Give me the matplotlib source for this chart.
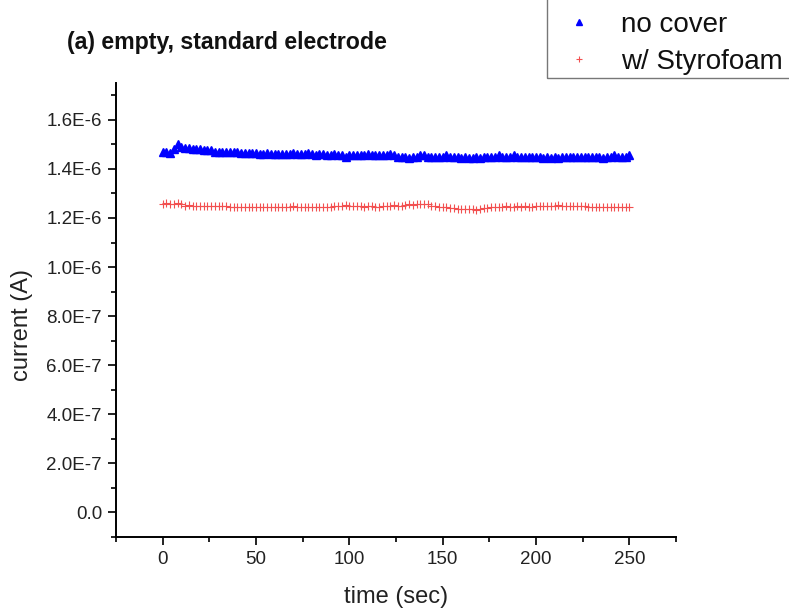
import numpy as np
import matplotlib
matplotlib.use("Agg")
import matplotlib.pyplot as plt
from matplotlib.patches import Rectangle
from matplotlib.ticker import MultipleLocator, FuncFormatter

plt.rcParams['font.family'] = ['Liberation Sans', 'DejaVu Sans']

# sample times (sec), one reading every 2 s
time_s = np.arange(0, 251, 2)

# current, units of 1e-6 A
no_cover = [
    1.470, 1.470, 1.465, 1.480, 1.500, 1.490, 1.485, 1.485, 1.480, 1.480,
    1.480, 1.475, 1.475, 1.475, 1.470, 1.470, 1.470, 1.470, 1.470, 1.470,
    1.470, 1.465, 1.465, 1.465, 1.465, 1.465, 1.460, 1.460, 1.465, 1.460,
    1.460, 1.460, 1.460, 1.460, 1.460, 1.465, 1.460, 1.460, 1.460, 1.465,
    1.460, 1.455, 1.460, 1.460, 1.455, 1.455, 1.460, 1.455, 1.455, 1.450,
    1.455, 1.455, 1.455, 1.455, 1.455, 1.460, 1.455, 1.455, 1.455, 1.455,
    1.455, 1.460, 1.455, 1.450, 1.450, 1.450, 1.445, 1.450, 1.450, 1.455,
    1.455, 1.450, 1.450, 1.450, 1.450, 1.450, 1.455, 1.450, 1.450, 1.450,
    1.445, 1.450, 1.445, 1.445, 1.450, 1.445, 1.450, 1.450, 1.450, 1.450,
    1.455, 1.450, 1.450, 1.450, 1.455, 1.450, 1.450, 1.450, 1.450, 1.450,
    1.450, 1.450, 1.445, 1.450, 1.445, 1.450, 1.445, 1.450, 1.450, 1.450,
    1.450, 1.450, 1.450, 1.450, 1.450, 1.450, 1.450, 1.450, 1.445, 1.450,
    1.450, 1.455, 1.450, 1.450, 1.450, 1.455,
]

styrofoam = [
    1.258, 1.260, 1.255, 1.258, 1.260, 1.255, 1.250, 1.252, 1.248, 1.250,
    1.248, 1.250, 1.250, 1.248, 1.250, 1.250, 1.250, 1.250, 1.245, 1.245,
    1.245, 1.245, 1.245, 1.243, 1.245, 1.245, 1.245, 1.243, 1.245, 1.245,
    1.245, 1.243, 1.245, 1.245, 1.245, 1.248, 1.245, 1.245, 1.243, 1.245,
    1.245, 1.245, 1.243, 1.245, 1.245, 1.245, 1.248, 1.250, 1.250, 1.252,
    1.248, 1.250, 1.248, 1.248, 1.245, 1.248, 1.248, 1.245, 1.245, 1.248,
    1.250, 1.250, 1.252, 1.250, 1.250, 1.252, 1.255, 1.252, 1.255, 1.258,
    1.258, 1.255, 1.250, 1.248, 1.245, 1.245, 1.243, 1.240, 1.240, 1.238,
    1.238, 1.235, 1.238, 1.235, 1.233, 1.238, 1.240, 1.240, 1.243, 1.245,
    1.245, 1.245, 1.248, 1.245, 1.245, 1.248, 1.245, 1.248, 1.245, 1.245,
    1.248, 1.250, 1.248, 1.250, 1.248, 1.250, 1.252, 1.250, 1.248, 1.250,
    1.250, 1.248, 1.250, 1.248, 1.245, 1.245, 1.245, 1.243, 1.245, 1.245,
    1.245, 1.243, 1.245, 1.245, 1.245, 1.245,
]

series_labels = ["no cover", "w/ Styrofoam"]
title = "(a) empty, standard electrode"

fig = plt.figure(figsize=(7.89, 6.10), dpi=100)
ax = fig.add_axes([116/789, 1-537/610, (676-116)/789, (537-83)/610])

ax.plot(time_s, np.array(no_cover)*1e-6, linestyle='none', marker='^',
        ms=6.2, color='#0000ff', mec='#0000ff', label=series_labels[0])
ax.plot(time_s, np.array(styrofoam)*1e-6, linestyle='none', marker='+',
        ms=6, mew=0.8, color='#f25050', label=series_labels[1])

ax.set_xlim(-25, 275)
ax.set_ylim(-1e-7, 1.75e-6)
ax.xaxis.set_major_locator(MultipleLocator(50))
ax.xaxis.set_minor_locator(MultipleLocator(25))
ax.yaxis.set_major_locator(MultipleLocator(2e-7))
ax.yaxis.set_minor_locator(MultipleLocator(1e-7))

def yfmt(v, pos):
    if abs(v) < 1e-12:
        return "0.0"
    m = v / 1e-7
    if abs(m) < 10:
        return f"{m:.1f}E-7"
    return f"{v/1e-6:.1f}E-6"

ax.yaxis.set_major_formatter(FuncFormatter(yfmt))

for s in ['top', 'right']:
    ax.spines[s].set_visible(False)
for s in ['left', 'bottom']:
    ax.spines[s].set_linewidth(1.4)
ax.tick_params(which='major', direction='out', length=6, width=1.4,
               labelsize=13.5, pad=4, color='#222222', labelcolor='#222222')
ax.tick_params(which='minor', direction='out', length=3.5, width=1.4,
               color='#222222')

ax.set_xlabel("time (sec)", fontsize=17, color='#222222')
ax.set_ylabel("current (A)", fontsize=17, color='#222222')
ax.xaxis.set_label_coords(0.5, (537-597)/454)
ax.xaxis.label.set_va('center')
ax.yaxis.set_label_coords((22-116)/560, (537-325)/454)
ax.yaxis.label.set_va('center')

fig.text(67/789, 1-43/610, title, fontsize=16.7, fontweight='bold',
         ha='left', va='center', color='#111111')

leg = fig.legend(loc='lower left', bbox_to_anchor=(547/789, 1-78/610),
                 fontsize=20, frameon=False, markerscale=0.75,
                 handletextpad=0.48, borderpad=0.1, labelspacing=0.4,
                 handlelength=2.1, borderaxespad=0)
for t in leg.get_texts():
    t.set_color('#111111')

# legend frame running past the top and right edges of the figure
fig.patches.append(Rectangle((547/789, 1-78/610), 0.5, 0.5,
                             transform=fig.transFigure, fill=False,
                             edgecolor='#777777', linewidth=1.0))

fig.savefig("out.png", dpi=100)
